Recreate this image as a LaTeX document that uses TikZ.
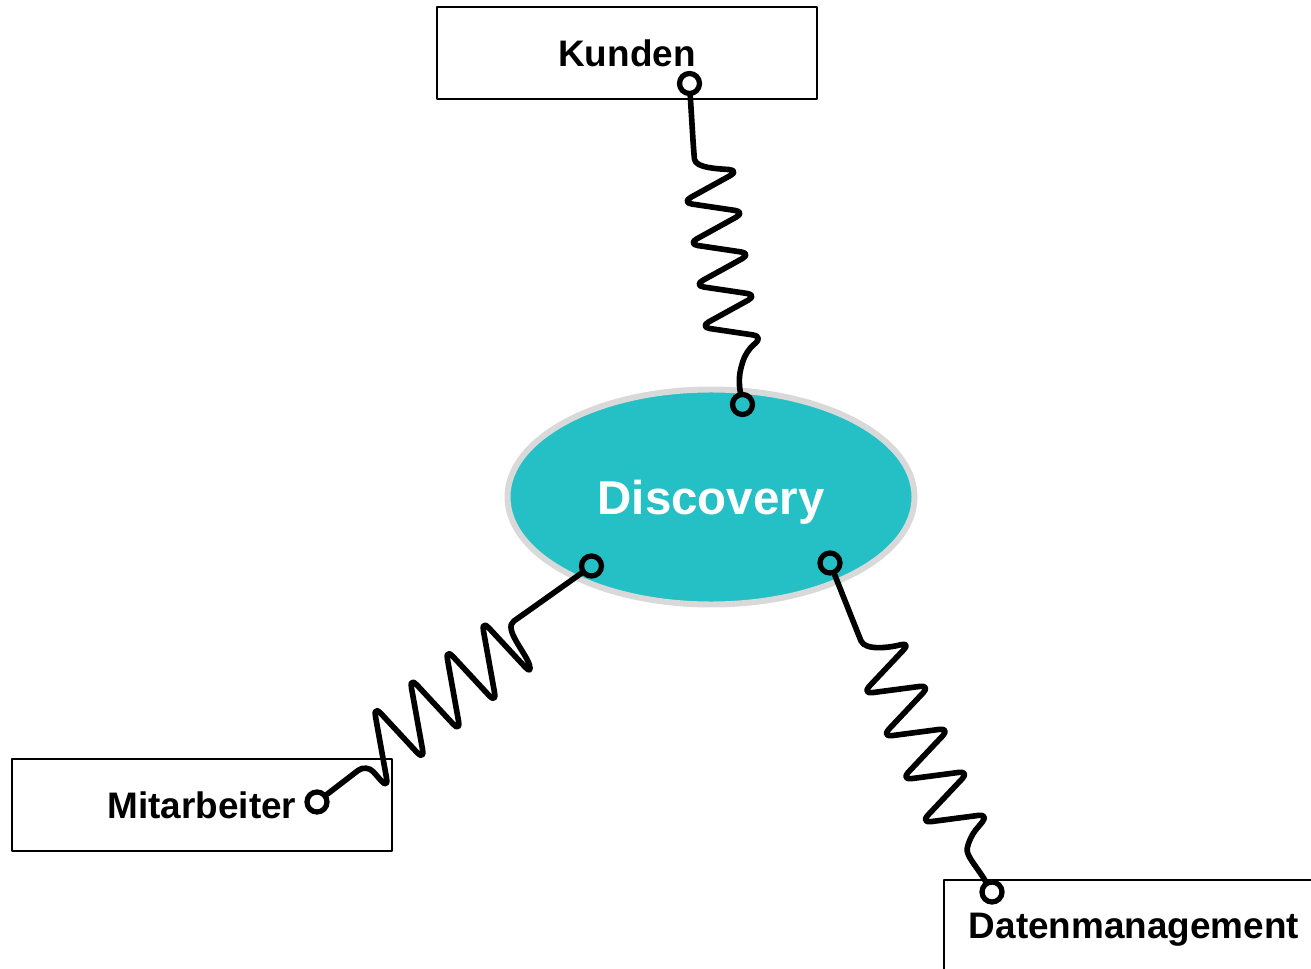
\documentclass[tikz,border=0pt]{standalone}
\usepackage{fontspec}
\setmainfont{Liberation Sans}
\usetikzlibrary{shapes.geometric}

\definecolor{discteal}{RGB}{36,192,197}
\definecolor{discrim}{RGB}{217,217,217}

\begin{document}
\begin{tikzpicture}[line cap=round, line join=round,
	box/.style={draw, line width=0.7pt, fill=white, minimum width=7.6cm, minimum height=1.84cm,
		inner sep=0pt, text depth=0pt, font=\fontsize{21}{25}\selectfont\bfseries},
	knob/.style={circle, draw, line width=3pt, minimum size=0.40cm, inner sep=0pt},
	spring/.style={line width=3.2pt, rounded corners=6pt}]
	
	\useasboundingbox (0,0) rectangle (26.22,19.36);
	
	% centre ellipse
	\node[ellipse, draw=discrim, line width=3.4pt, fill=discteal, minimum width=8.14cm,
		minimum height=4.3cm, inner sep=0pt, text depth=0pt, text=white,
		font=\fontsize{27}{32}\selectfont\bfseries] (disc) at (14.22,9.42) {Discovery};
	
	% the three boxes
	\node[box] (kunden) at (12.54,18.30) {Kunden};
	\node[box] (mitarb) at (4.04,3.26) {Mitarbeiter};
	\node[box] (daten) at (22.68,0.84) {Datenmanagement};
	
	% connection points
	\node[knob] (kunden-p) at (13.79,17.69) {};
	\node[knob] (disc-n) at (14.85,11.27) {};
	\node[knob] (disc-sw) at (11.83,8.04) {};
	\node[knob] (disc-se) at (16.60,8.10) {};
	\node[knob] (mitarb-p) at (6.34,3.32) {};
	\node[knob] (daten-p) at (19.84,1.52) {};
	
	% spring Kunden -- Discovery
	\draw[spring] (kunden-p) -- ++(0.08,-1.3) to[out=-85,in=175] ++(0.92,-0.44)
		-- ++(-1.16,-0.64) -- ++(1.28,-0.19) -- ++(-1.16,-0.64) -- ++(1.28,-0.19)
		-- ++(-1.16,-0.64) -- ++(1.28,-0.19) -- ++(-1.16,-0.64) -- ++(1.28,-0.19)
		-- ++(-0.36,-0.3) to[out=-105,in=100] (disc-n);
	
	% spring Discovery -- Mitarbeiter
	\draw[spring] (disc-sw) -- ++(-1.38,-0.98) to[out=215,in=107] ++(0.2,-1.2)
		-- ++(-1.02,1.10) -- ++(0.30,-1.67) -- ++(-1.02,1.10) -- ++(0.30,-1.67)
		-- ++(-1.02,1.10) -- ++(0.30,-1.67) -- ++(-1.02,1.10) -- ++(0.30,-1.67)
		-- ++(-0.44,0.5) -- (mitarb-p);
	
	% spring Discovery -- Datenmanagement
	\draw[spring] (disc-se) -- ++(0.54,-1.36) to[out=-68,in=195] ++(1.08,-0.22)
		-- ++(-0.98,-1.04) -- ++(1.37,0.18) -- ++(-0.98,-1.04) -- ++(1.37,0.18)
		-- ++(-0.98,-1.04) -- ++(1.37,0.18) -- ++(-0.98,-1.04) -- ++(1.37,0.18)
		-- ++(-0.4,-0.48) to[out=-100,in=121] (daten-p);
	
\end{tikzpicture}
\end{document}
